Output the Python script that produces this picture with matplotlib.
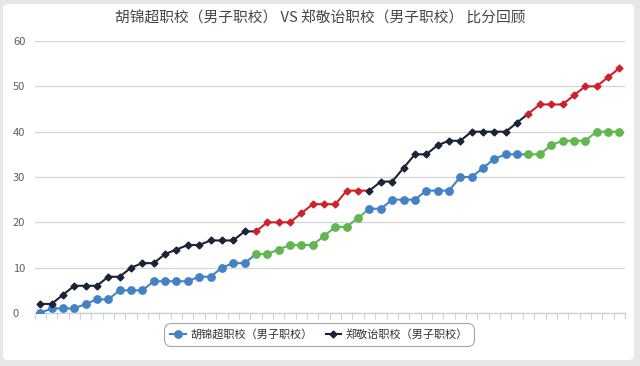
import numpy as np
import matplotlib.pyplot as plt
from matplotlib.patches import FancyBboxPatch
from matplotlib.lines import Line2D

plt.rcParams['font.family'] = ['Noto Sans CJK SC', 'DejaVu Sans']

title = '胡锦超职校（男子职校） VS 郑敬诒职校（男子职校） 比分回顾'
name_a = '胡锦超职校（男子职校）'
name_b = '郑敬诒职校（男子职校）'

# cumulative scores
score_a = [0, 1, 1, 1, 2, 3, 3, 5, 5, 5, 7, 7, 7, 7, 8, 8, 10, 11, 11, 13,
           13, 14, 15, 15, 15, 17, 19, 19, 21, 23, 23, 25, 25, 25, 27, 27, 27, 30, 30, 32,
           34, 35, 35, 35, 35, 37, 38, 38, 38, 40, 40, 40]
score_b = [2, 2, 4, 6, 6, 6, 8, 8, 10, 11, 11, 13, 14, 15, 15, 16, 16, 16, 18, 18,
           20, 20, 20, 22, 24, 24, 24, 27, 27, 27, 29, 29, 32, 35, 35, 37, 38, 38, 40, 40,
           40, 40, 42, 44, 46, 46, 46, 48, 50, 50, 52, 54]
# highlighted stretches (start index, end index inclusive)
zones = [(19, 28), (43, 51)]
yticks = [0, 10, 20, 30, 40, 50, 60]

col_a, col_a2 = '#4482c6', '#62b64e'
col_b, col_b2 = '#1b2436', '#d0202a'

fig = plt.figure(figsize=(6.4, 3.66), dpi=100)
fig.patch.set_facecolor('#e5e7ea')
card = FancyBboxPatch((3 / 640, 1 - 360 / 366), 631 / 640, 356 / 366,
                      boxstyle='round,pad=0,rounding_size=0.01',
                      transform=fig.transFigure, facecolor='white',
                      edgecolor='none', zorder=-10)
fig.patches.append(card)

ax = fig.add_axes([34.5 / 640, 1 - 313 / 366, 590.5 / 640, 272 / 366])
ax.set_facecolor('none')
ax.set_zorder(1)

x = np.arange(len(score_a))


def in_zone(i):
    return any(a <= i <= b for a, b in zones)


def draw(y, base, hi, marker, ms):
    y = np.asarray(y)
    n = len(y)
    # line segments, coloured by the start point
    i = 0
    while i < n - 1:
        z = in_zone(i)
        j = i
        while j < n - 1 and in_zone(j) == z:
            j += 1
        ax.plot(x[i:j + 1], y[i:j + 1], color=hi if z else base, lw=1.5,
                zorder=3, solid_capstyle='round')
        i = j
    mask = np.array([in_zone(k) for k in range(n)])
    ax.plot(x[~mask], y[~mask], ls='none', marker=marker, ms=ms,
            color=base, mec=base, zorder=4)
    ax.plot(x[mask], y[mask], ls='none', marker=marker, ms=ms,
            color=hi, mec=hi, zorder=4)


draw(score_a, col_a, col_a2, 'o', 5.3)
draw(score_b, col_b, col_b2, 'D', 3.5)

ax.set_xlim(-0.5, len(score_a) - 0.5)
ax.set_ylim(0, 60)
ax.set_yticks(yticks)
ax.yaxis.grid(True, color='#d4d4d4', lw=0.9)
ax.set_axisbelow(True)
ax.tick_params(axis='y', length=0, pad=15.5, labelsize=8, labelcolor='#606060')
for lab in ax.get_yticklabels():
    lab.set_horizontalalignment('left')

ax.set_xticks(np.arange(-0.5, len(score_a), 1.0))
ax.set_xticklabels([])
ax.tick_params(axis='x', length=4, width=0.8, color='#c8d2dc')
for s in ['top', 'right', 'left']:
    ax.spines[s].set_visible(False)
ax.spines['bottom'].set_color('#c8d2dc')
ax.spines['bottom'].set_linewidth(1)

fig.text(0.5, 1 - 19 / 366, title, ha='center', va='center',
         fontsize=10.6, color='#3f4650')

handles = [Line2D([], [], color=col_a, marker='o', ms=5.3, lw=1.5),
           Line2D([], [], color=col_b, marker='D', ms=3.5, lw=1.5)]
leg = fig.legend(handles, [name_a, name_b], loc='center',
                 bbox_to_anchor=(319 / 640, 1 - 334.5 / 366), ncol=2,
                 fontsize=8, frameon=True, fancybox=True, handlelength=1.4,
                 handletextpad=0.4, columnspacing=1.2, borderpad=0.55,
                 labelcolor='#333333')
leg.get_frame().set_edgecolor('#909090')
leg.get_frame().set_linewidth(0.8)
leg.get_frame().set_boxstyle('round,pad=0,rounding_size=0.6')

fig.savefig('out.png', dpi=100, facecolor=fig.get_facecolor())
